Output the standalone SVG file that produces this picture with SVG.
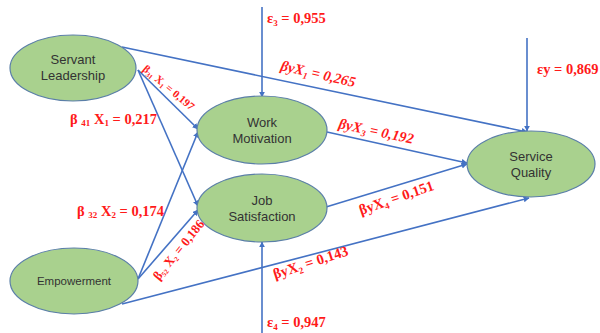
<svg xmlns="http://www.w3.org/2000/svg" width="600" height="333" viewBox="0 0 600 333">
<defs>
<marker id="ah" viewBox="0 0 10 10" refX="9" refY="5" markerWidth="6" markerHeight="6" orient="auto" markerUnits="userSpaceOnUse">
<path d="M0,0 L10,5 L0,10 z" fill="#4472c4"/>
</marker>
<style>
.node ellipse{fill:#a9d18e;stroke:#5b7fa8;stroke-width:1.2}
.node text{font-family:"Liberation Sans",Arial,sans-serif;font-size:13px;fill:#333;text-anchor:middle}
.edge{stroke:#4472c4;stroke-width:1.6;fill:none;marker-end:url(#ah)}
.lbl{font-family:"Liberation Serif","Times New Roman",serif;font-weight:bold;font-size:14.5px;fill:#ff1a1a}
.it{font-style:italic}
.sub{font-size:9px}
</style>
</defs>
<rect width="600" height="333" fill="#fff"/>
<g id="connectors">
<line class="edge" x1="122" y1="47" x2="527" y2="132"/>
<line class="edge" x1="138" y1="70" x2="198" y2="129"/>
<line class="edge" x1="138" y1="70" x2="198" y2="206"/>
<line class="edge" x1="138" y1="279" x2="198" y2="132"/>
<line class="edge" x1="138" y1="279" x2="198" y2="210"/>
<line class="edge" x1="122" y1="304" x2="529" y2="198"/>
<line class="edge" x1="327" y1="132" x2="467" y2="163"/>
<line class="edge" x1="326" y1="207" x2="467" y2="164"/>
<line class="edge" x1="262" y1="7" x2="262" y2="97"/>
<line class="edge" x1="527" y1="38" x2="527" y2="131"/>
<line class="edge" x1="262" y1="333" x2="262" y2="242"/>
</g>
<g id="servant-leadership" class="node">
<ellipse cx="73" cy="68" rx="63" ry="33"/>
<text x="73" y="64">Servant</text>
<text x="73" y="80">Leadership</text>
</g>
<g id="work-motivation" class="node">
<ellipse cx="262" cy="130" rx="65" ry="34"/>
<text x="262" y="127">Work</text>
<text x="262" y="143">Motivation</text>
</g>
<g id="job-satisfaction" class="node">
<ellipse cx="262" cy="208" rx="65" ry="34"/>
<text x="262" y="205">Job</text>
<text x="262" y="221">Satisfaction</text>
</g>
<g id="empowerment" class="node">
<ellipse cx="74" cy="281" rx="64" ry="33"/>
<text x="74" y="285" style="font-size:11.5px">Empowerment</text>
</g>
<g id="service-quality" class="node">
<ellipse cx="531" cy="164" rx="64" ry="33"/>
<text x="531" y="161">Service</text>
<text x="531" y="177">Quality</text>
</g>
<g id="labels">
<text class="lbl" x="267" y="23">ε<tspan class="sub" dy="3">3</tspan><tspan dy="-3"> = 0,955</tspan></text>
<text class="lbl" x="537" y="74">εy = 0,869</text>
<text class="lbl" x="267" y="327">ε<tspan class="sub" dy="3">4</tspan><tspan dy="-3"> = 0,947</tspan></text>
<text class="lbl it" transform="rotate(13 280 70)" x="280" y="70">βyX<tspan class="sub" dy="3">1</tspan><tspan dy="-3"> = 0,265</tspan></text>
<text class="lbl it" transform="rotate(12 338 128)" x="338" y="128">βyX<tspan class="sub" dy="3">3</tspan><tspan dy="-3"> = 0,192</tspan></text>
<text class="lbl" transform="rotate(-19 361 215)" x="361" y="215">βyX<tspan class="sub" dy="3">4</tspan><tspan dy="-3"> = 0,151</tspan></text>
<text class="lbl" transform="rotate(-18 275 279)" x="275" y="279">βyX<tspan class="sub" dy="3">2</tspan><tspan dy="-3"> = 0,143</tspan></text>
<text class="lbl" x="70" y="124">β <tspan class="sub" dy="2">41</tspan><tspan dy="-2"> X</tspan><tspan class="sub" dy="2">1</tspan><tspan dy="-2"> = 0,217</tspan></text>
<text class="lbl" x="77" y="216">β <tspan class="sub" dy="2">32</tspan><tspan dy="-2"> X</tspan><tspan class="sub" dy="2">2</tspan><tspan dy="-2"> = 0,174</tspan></text>
<text class="lbl" style="font-size:11px" transform="rotate(40 142 70)" x="142" y="70">β<tspan class="sub" style="font-size:7px" dy="2">31</tspan><tspan dy="-2"> X</tspan><tspan class="sub" style="font-size:7px" dy="2">1</tspan><tspan dy="-2"> = 0,197</tspan></text>
<text class="lbl" style="font-size:13px" transform="rotate(-51 159 281)" x="159" y="281">β<tspan class="sub" style="font-size:7px" dy="2">52</tspan><tspan dy="-2"> X</tspan><tspan class="sub" style="font-size:7px" dy="2">2</tspan><tspan dy="-2"> = 0,186</tspan></text>
</g>
</svg>
